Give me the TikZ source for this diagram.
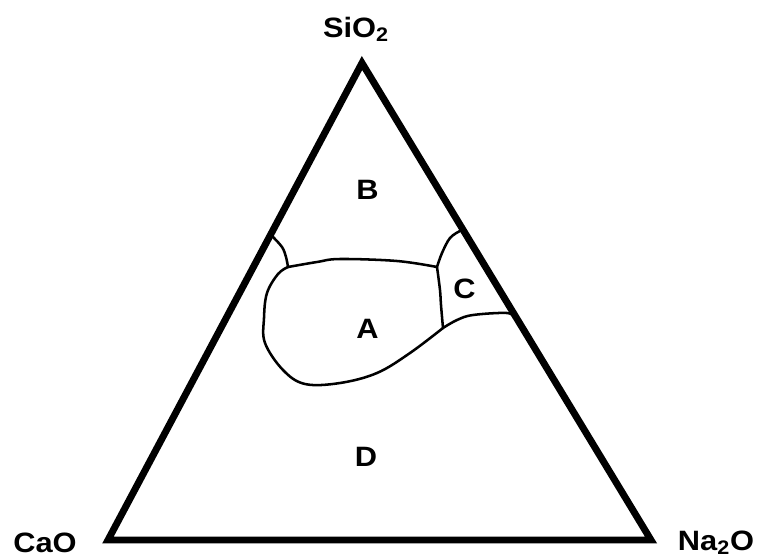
\documentclass[tikz,border=0pt]{standalone}
\usepackage{fontspec}
\setmainfont{Liberation Sans}
\usepackage{graphicx}
\newcommand{\lbltext}[1]{\scalebox{1.1}[1]{\bfseries #1}}
\begin{document}
\begin{tikzpicture}[x=0.75pt,y=-0.75pt,
  lbl/.style={font=\fontsize{21}{25}\selectfont, anchor=base, inner sep=0pt},
  edge/.style={line width=5.2pt, line join=miter},
  bound/.style={line width=1.9pt, line join=round, line cap=round}]
\useasboundingbox (0,0) rectangle (758,558);
% triangle corners
\coordinate (top) at (362,63);
\coordinate (bl) at (108,540);
\coordinate (br) at (651,540);
\draw[edge] (top) -- (br) -- (bl) -- cycle;
% junctions
\coordinate (j1) at (288,267);
\coordinate (j2) at (437,267);
\coordinate (j3) at (443,328);
\coordinate (eL) at (272,236);
\coordinate (eC) at (460,231);
\coordinate (eR) at (514,318);
% boundaries
\draw[bound] plot[smooth, tension=0.6] coordinates {(eL) (282,247) (286,257) (j1)};
\draw[bound] plot[smooth, tension=0.6] coordinates {(j1) (317,262) (340,259) (397,261) (j2)};
\draw[bound] plot[smooth, tension=0.6] coordinates {(j1) (278,274) (267,293) (264,318) (265,343) (283,370) (305,384) (340,383) (377,373) (410,353) (j3)};
\draw[bound] plot[smooth, tension=0.6] coordinates {(j2) (440,290) (441,305) (j3)};
\draw[bound] plot[smooth, tension=0.6] coordinates {(j2) (442,253) (450,238) (eC)};
\draw[bound] plot[smooth, tension=0.6] coordinates {(j3) (457,320) (473,315) (507,313) (eR)};
% labels
\node[lbl] (sio2) at (356,37) {\lbltext{SiO\textsubscript{2}}};
\node[lbl] (cao) at (45,552) {\lbltext{CaO}};
\node[lbl] (na2o) at (716,550) {\lbltext{Na\textsubscript{2}O}};
\node[lbl] (B) at (367.5,199) {\lbltext{B}};
\node[lbl] (A) at (367.5,338) {\lbltext{A}};
\node[lbl] (C) at (464.5,298) {\lbltext{C}};
\node[lbl] (D) at (366,466) {\lbltext{D}};
\end{tikzpicture}
\end{document}
